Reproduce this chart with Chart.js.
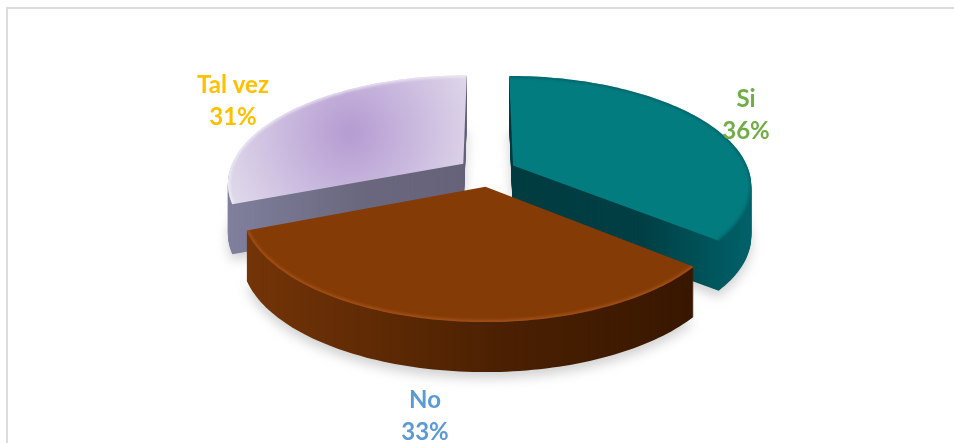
<!DOCTYPE html>
<html>
<head>
<meta charset="utf-8">
<title>Pie</title>
<script src="https://cdn.jsdelivr.net/npm/chart.js@4"></script>
<style>
  html, body { margin: 0; padding: 0; background: #fff; }
  #wrap { position: relative; width: 954px; height: 443px; overflow: hidden; }
  /* frame of the chart area, only top and left show in the picture */
  #frame { position: absolute; left: 6px; top: 7px; width: 960px; height: 460px; border: 2px solid #dcdcdc; box-sizing: border-box; }
  canvas { position: absolute; left: 0; top: 0; }
</style>
</head>
<body>
<div id="wrap">
  <div id="frame"></div>
  <canvas id="myChart" width="954" height="443"></canvas>
</div>
<script>
const categories = ["Si", "No", "Tal vez"];
const percents = [36, 33, 31];
const labelColors = ["#70AD47", "#5B9BD5", "#FFC000"];

// look of each slice: top face, side gradient (left to right), rim line
const looks = [
  { top: "#037c80", side: ["#003c40", "#003f44", "#00626a"], rim: "rgba(0,84,90,0.7)", rimWidth: 3 },
  { top: "#853b05", side: ["#743508", "#4c2102", "#381700"], rim: "rgba(190,100,42,0.55)", rimWidth: 4 },
  { top: "#cdbfe0", side: ["#80809e", "#6a687e", "#66627a"], rim: "rgba(245,242,250,0.9)", rimWidth: 3 },
];
// where the labels sit, page pixels
const labelSpots = [
  { x: 746, y: 99 },
  { x: 425, y: 400 },
  { x: 233, y: 85 },
];
// small per slice corrections to the fitted view
const sliceFit = [
  { r: -2, dx: 0, dy: 0 },
  { r: -4, dx: 3, dy: 5 },
  { r: -4, dx: 0, dy: 0 },
];

// pie plane to page, a bit of perspective so the near side is bigger
const view = { cx: 487, cy: 171, radius: 238, explode: 29, squash: 0.453, persp: 0.000738, depth: 50 };

function project(u, v) {
  const g = 1 / (1 - view.persp * v);
  return { x: view.cx + u * g, y: view.cy + view.squash * v * g };
}

function slicePoints(arc, fit) {
  // arc angles come from chart.js (0 = 3 o'clock)
  const mid = (arc.startAngle + arc.endAngle) / 2;
  const ox = Math.cos(mid) * view.explode + fit.dx;
  const oy = Math.sin(mid) * view.explode + fit.dy;
  const r = view.radius + fit.r;
  const pts = [];
  const steps = 90;
  for (let i = 0; i <= steps; i++) {
    const a = arc.startAngle + (arc.endAngle - arc.startAngle) * i / steps;
    pts.push(project(ox + Math.cos(a) * r, oy + Math.sin(a) * r));
  }
  return { apex: project(ox, oy), rim: pts };
}

function tracePath(ctx, s, dy) {
  ctx.beginPath();
  ctx.moveTo(s.apex.x, s.apex.y + dy);
  s.rim.forEach(function (p) { ctx.lineTo(p.x, p.y + dy); });
  ctx.closePath();
}

function drawSlice(ctx, arc, look, i) {
  const s = slicePoints(arc, sliceFit[i]);
  const xs = s.rim.map(function (p) { return p.x; }).concat(s.apex.x);
  const x0 = Math.min.apply(null, xs), x1 = Math.max.apply(null, xs);

  // soft shadow on the page
  ctx.save();
  ctx.filter = "blur(6px)";
  ctx.fillStyle = "rgba(120,120,120,0.35)";
  tracePath(ctx, s, view.depth + 6);
  ctx.fill();
  ctx.restore();

  // side walls: sweep the outline from the bottom up
  const grad = ctx.createLinearGradient(x0, 0, x1, 0);
  grad.addColorStop(0, look.side[0]);
  grad.addColorStop(0.55, look.side[1]);
  grad.addColorStop(1, look.side[2]);
  ctx.save();
  ctx.filter = "blur(0.6px)";
  ctx.fillStyle = grad;
  for (let d = view.depth; d > 0; d--) {
    tracePath(ctx, s, d);
    ctx.fill();
  }

  // top face
  tracePath(ctx, s, 0);
  if (i === 2) {
    const g = ctx.createRadialGradient(350, 132, 4, 350, 132, 135);
    g.addColorStop(0, "#b69dd2");
    g.addColorStop(0.5, "#cbbbdf");
    g.addColorStop(1, "#e0d9ea");
    ctx.fillStyle = g;
  } else {
    ctx.fillStyle = look.top;
  }
  ctx.fill();
  ctx.restore();

  // rim highlight along the outer edge
  ctx.save();
  tracePath(ctx, s, 0);
  ctx.clip();
  ctx.filter = "blur(1.5px)";
  ctx.strokeStyle = look.rim;
  ctx.lineWidth = look.rimWidth;
  ctx.beginPath();
  s.rim.forEach(function (p, n) { n ? ctx.lineTo(p.x, p.y) : ctx.moveTo(p.x, p.y); });
  ctx.stroke();
  ctx.restore();
}

const pie3d = {
  id: "pie3d",
  beforeDatasetDraw: function (chart) {
    const ctx = chart.ctx;
    const arcs = chart.getDatasetMeta(0).data;
    // back slices first, the near one (No) goes over them
    [2, 0, 1].forEach(function (i) {
      drawSlice(ctx, arcs[i], looks[i], i);
    });
    return false;
  },
  afterDatasetsDraw: function (chart) {
    const ctx = chart.ctx;
    ctx.save();
    ctx.font = "bold 24px Lato";
    ctx.textAlign = "center";
    ctx.textBaseline = "middle";
    categories.forEach(function (name, i) {
      ctx.fillStyle = labelColors[i];
      ctx.fillText(name, labelSpots[i].x, labelSpots[i].y);
      ctx.fillText(percents[i] + "%", labelSpots[i].x, labelSpots[i].y + 32);
    });
    ctx.restore();
  },
};

const myChart = new Chart(document.getElementById("myChart"), {
  type: "pie",
  data: {
    labels: categories,
    datasets: [{ data: percents, backgroundColor: looks.map(function (l) { return l.top; }), borderWidth: 0 }],
  },
  options: {
    responsive: false,
    animation: false,
    plugins: { legend: { display: false }, tooltip: { enabled: false } },
  },
  plugins: [pie3d],
});
</script>
</body>
</html>
